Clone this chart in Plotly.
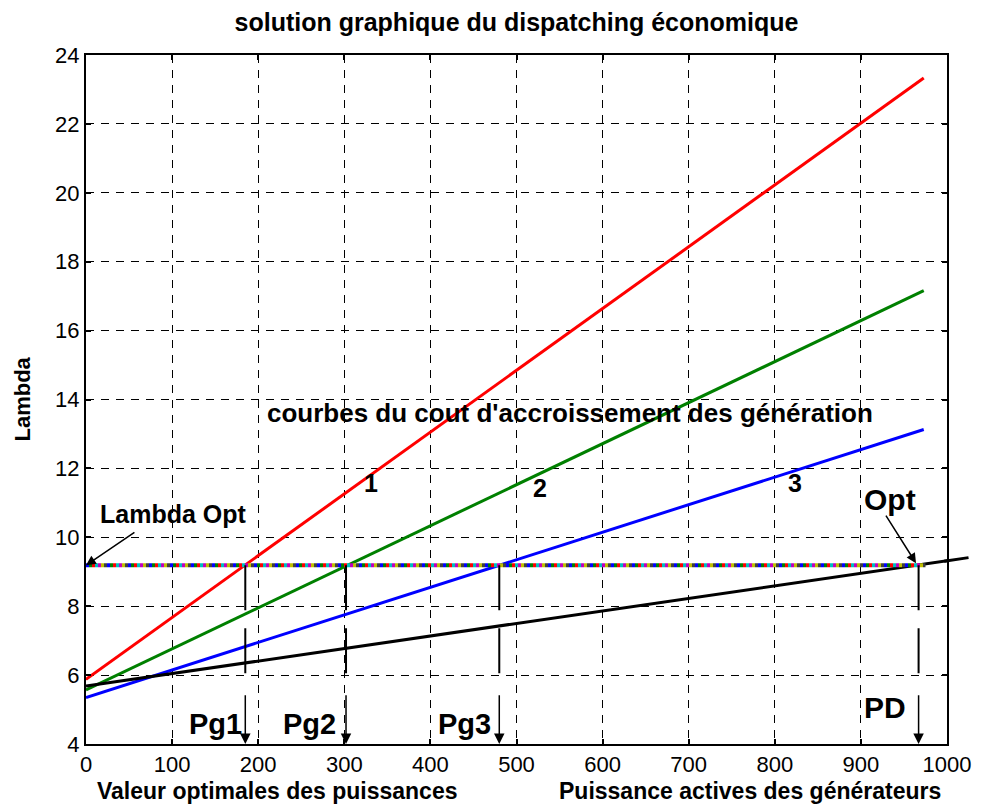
import numpy as np
import plotly.graph_objects as go

# ---------------- data ----------------
P_curve = [0, 973]                 # active power range of the incremental cost curves
lambda_g1 = [5.88, 23.33]          # incremental cost, generator 1
lambda_g2 = [5.57, 17.16]          # incremental cost, generator 2
lambda_g3 = [5.35, 13.13]          # incremental cost, generator 3
P_demand = [0, 1025]               # total demand axis
lambda_total = [5.68, 9.41]        # equivalent (aggregated) incremental cost
lambda_opt = 9.19                  # optimal lambda
lambda_span = [0, 975]             # extent of the lambda line
Pg_names = ["Pg1", "Pg2", "Pg3", "PD"]
Pg_values = [185, 302, 480, 967]   # optimal powers and demand
drop_bottom = 6.0                  # where the vertical drop lines stop
arrow_top = 5.46                   # start of the downward arrows
curve_labels = ["1", "2", "3"]
curve_label_x = [331, 527, 823]
curve_label_y = [11.57, 11.42, 11.57]
x_ticks = list(range(0, 1001, 100))
y_ticks = list(range(4, 25, 2))

FONT = "Liberation Sans, Arial, sans-serif"
fig = go.Figure()

for y, c in [(lambda_g1, "#ff0000"), (lambda_g2, "#008000"), (lambda_g3, "#0000ff")]:
    fig.add_trace(go.Scatter(x=P_curve, y=y, mode="lines",
                             line=dict(color=c, width=3), showlegend=False, hoverinfo="skip"))

fig.add_trace(go.Scatter(x=P_demand, y=lambda_total, mode="lines",
                         line=dict(color="black", width=3), showlegend=False, hoverinfo="skip"))

# multicoloured lambda line (MATLAB colour order)
mcolors = ["#0000ff", "#008000", "#ff0000", "#00bfbf", "#bf00bf", "#bfbf00", "#404040"]
seg = 3
period = seg * len(mcolors)
for k, c in enumerate(mcolors):
    if k == 0:
        dash = f"{seg}px,{period - seg}px"
    else:
        dash = f"0px,{seg * k}px,{seg}px,{period - seg * (k + 1)}px"
    fig.add_trace(go.Scatter(x=lambda_span, y=[lambda_opt, lambda_opt], mode="lines",
                             line=dict(color=c, width=4, dash=dash),
                             showlegend=False, hoverinfo="skip"))

# vertical drop lines
for p in Pg_values:
    fig.add_trace(go.Scatter(x=[p, p], y=[lambda_opt, drop_bottom], mode="lines",
                             line=dict(color="black", width=2, dash="45px,18px"),
                             showlegend=False, hoverinfo="skip"))

ann = []
# downward arrows
for p in Pg_values:
    ann.append(dict(x=p, y=y_ticks[0], ax=p, ay=arrow_top, xref="x", yref="y",
                    axref="x", ayref="y", text="", showarrow=True,
                    arrowhead=2, arrowsize=1.4, arrowwidth=1.5, arrowcolor="black"))

label_pos = [(150, 4.59), (260, 4.59), (440, 4.59), (928, 5.07)]
label_size = [29, 29, 29, 30]
for name, (lx, ly), fs in zip(Pg_names, label_pos, label_size):
    ann.append(dict(x=lx, y=ly, xref="x", yref="y", text=f"<b>{name}</b>",
                    showarrow=False, font=dict(family=FONT, size=fs, color="black")))

# black line continuation beyond the axes box
y_ext = float(np.interp(995, P_demand, lambda_total))
ann.append(dict(x=P_demand[1], y=lambda_total[1], ax=995, ay=y_ext, xref="x", yref="y",
                axref="x", ayref="y", text="", showarrow=True, arrowhead=0,
                arrowwidth=3, arrowcolor="black", standoff=0, startstandoff=0))

# Lambda Opt
ann.append(dict(x=0, y=lambda_opt, ax=58, ay=10.17, xref="x", yref="y", axref="x", ayref="y",
                text="", showarrow=True, arrowhead=2, arrowsize=1.3, arrowwidth=1.5,
                arrowcolor="black"))
ann.append(dict(x=102, y=10.67, xref="x", yref="y", text="<b>Lambda Opt</b>", showarrow=False,
                font=dict(family=FONT, size=25, color="black")))
# Opt
ann.append(dict(x=964, y=9.25, ax=928, ay=10.67, xref="x", yref="y", axref="x", ayref="y",
                text="", showarrow=True, arrowhead=2, arrowsize=1.3, arrowwidth=1.5,
                arrowcolor="black"))
ann.append(dict(x=934, y=11.1, xref="x", yref="y", text="<b>Opt</b>", showarrow=False,
                font=dict(family=FONT, size=30, color="black")))

ann.append(dict(x=562, y=13.62, xref="x", yref="y",
                text="<b>courbes du cout d'accroissement des génération</b>", showarrow=False,
                font=dict(family=FONT, size=26, color="black")))
for t, lx, ly in zip(curve_labels, curve_label_x, curve_label_y):
    ann.append(dict(x=lx, y=ly, xref="x", yref="y", text=f"<b>{t}</b>", showarrow=False,
                    font=dict(family=FONT, size=25, color="black")))

# axis titles
ann.append(dict(x=222, y=0, xref="x", yref="paper", yanchor="top", yshift=-32,
                text="<b>Valeur optimales des puissances</b>", showarrow=False,
                font=dict(family=FONT, size=23, color="black")))
ann.append(dict(x=771, y=0, xref="x", yref="paper", yanchor="top", yshift=-32,
                text="<b>Puissance actives des générateurs</b>", showarrow=False,
                font=dict(family=FONT, size=23, color="black")))
ann.append(dict(x=0, y=0.5, xref="paper", yref="paper", xanchor="center", xshift=-64,
                text="<b>Lambda</b>", textangle=-90, showarrow=False,
                font=dict(family=FONT, size=22, color="black")))

axis_common = dict(showline=True, linecolor="black", linewidth=2, mirror="ticks",
                   ticks="inside", ticklen=5, tickwidth=2, tickcolor="black",
                   showgrid=True, gridcolor="black", gridwidth=1, griddash="8px,7px",
                   zeroline=False, tickfont=dict(family=FONT, size=22, color="black"))

fig.update_layout(
    width=983, height=809,
    margin=dict(l=86, r=31, t=55, b=65),
    paper_bgcolor="white", plot_bgcolor="white",
    title=dict(text="<b>solution graphique du dispatching économique</b>",
               x=0.5, xref="paper", y=1 - 22 / 809, yref="container",
               xanchor="center", yanchor="middle",
               font=dict(family=FONT, size=25, color="black")),
    xaxis=dict(range=[x_ticks[0], x_ticks[-1]], tickvals=x_ticks, **axis_common),
    yaxis=dict(range=[y_ticks[0], y_ticks[-1]], tickvals=y_ticks, **axis_common),
    annotations=ann,
    showlegend=False,
)

fig.write_html("out.html")
